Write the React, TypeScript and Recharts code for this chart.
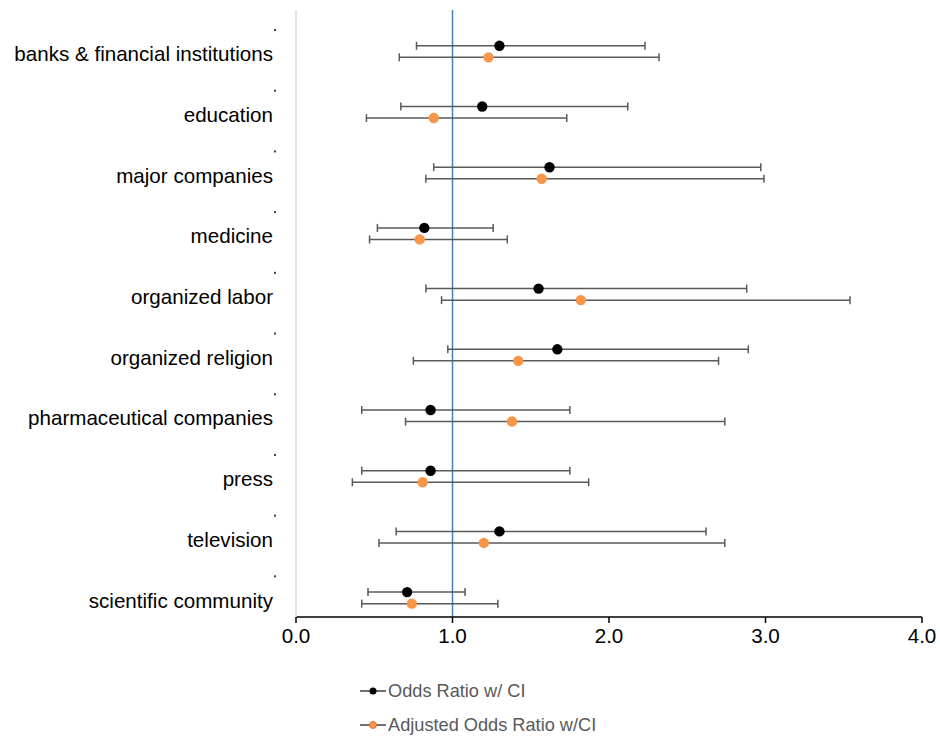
import React from 'react';
import { ScatterChart, Scatter, XAxis, YAxis, ErrorBar, ReferenceLine } from 'recharts';

const categories = [
  'banks & financial institutions',
  'education',
  'major companies',
  'medicine',
  'organized labor',
  'organized religion',
  'pharmaceutical companies',
  'press',
  'television',
  'scientific community',
];

// odds ratio with 95% CI
const oddsRatio = [1.30, 1.19, 1.62, 0.82, 1.55, 1.67, 0.86, 0.86, 1.30, 0.71];
const oddsLow = [0.77, 0.67, 0.88, 0.52, 0.83, 0.97, 0.42, 0.42, 0.64, 0.46];
const oddsHigh = [2.23, 2.12, 2.97, 1.26, 2.88, 2.89, 1.75, 1.75, 2.62, 1.08];

// adjusted odds ratio with 95% CI
const adjRatio = [1.23, 0.88, 1.57, 0.79, 1.82, 1.42, 1.38, 0.81, 1.20, 0.74];
const adjLow = [0.66, 0.45, 0.83, 0.47, 0.93, 0.75, 0.70, 0.36, 0.53, 0.42];
const adjHigh = [2.32, 1.73, 2.99, 1.35, 3.54, 2.70, 2.74, 1.87, 2.74, 1.29];

const xTicks = [0, 1, 2, 3, 4];
const seriesNames = ['Odds Ratio w/ CI', 'Adjusted Odds Ratio w/CI'];
const seriesColors = ['#000000', '#f79646'];

const FONT = '"Liberation Sans", Arial, sans-serif';

// row layout inside each category band
const OR_OFFSET = 0.59;
const ADJ_OFFSET = 0.78;
const LABEL_OFFSET = 0.725;
const DOT_OFFSET = 0.33;

const build = (vals: number[], lo: number[], hi: number[], off: number) =>
  vals.map((v, i) => ({ x: v, y: i + off, err: [v - lo[i], hi[i] - v] }));

const orData = build(oddsRatio, oddsLow, oddsHigh, OR_OFFSET);
const adjData = build(adjRatio, adjLow, adjHigh, ADJ_OFFSET);

const yTicks: number[] = [];
categories.forEach((_, i) => {
  yTicks.push(i + DOT_OFFSET);
  yTicks.push(i + LABEL_OFFSET);
});

const CatTick = (props: any) => {
  const { x, y, payload } = props;
  const v = payload.value;
  const idx = Math.floor(v);
  const frac = v - idx;
  if (Math.abs(frac - DOT_OFFSET) < 0.01) {
    return <rect x={x - 2} y={y - 1} width={2} height={2} fill="#404040" />;
  }
  return (
    <text x={x - 3} y={y} dy="0.35em" textAnchor="end" fontSize={20.6} fontFamily={FONT} fill="#000">
      {categories[idx]}
    </text>
  );
};

const dot = (color: string) => (props: any) => (
  <circle cx={props.cx} cy={props.cy} r={5.2} fill={color} />
);

const LegendBox = () => (
  <div style={{ position: 'absolute', left: 360, top: 674, fontFamily: FONT, fontSize: 18.2, color: '#595959' }}>
    {seriesNames.map((n, i) => (
      <div key={n} style={{ display: 'flex', alignItems: 'center', height: 34 }}>
        <svg width={28} height={12}>
          <line x1={0} y1={6} x2={26} y2={6} stroke="#404040" strokeWidth={1.5} />
          <circle cx={13} cy={6} r={3.5} fill={seriesColors[i]} stroke={i === 1 ? '#d9622b' : 'none'} strokeWidth={0.8} />
        </svg>
        <span>{n}</span>
      </div>
    ))}
  </div>
);

export default function App() {
  return (
    <div style={{ position: 'relative', width: 940, height: 738 }}>
      <style>{'body { margin: 0; }'}</style>
      <ScatterChart width={940} height={738} margin={{ top: 10, right: 18, left: 0, bottom: 81 }}>
        <XAxis
          type="number"
          dataKey="x"
          domain={[0, 4]}
          ticks={xTicks}
          tickFormatter={(v: number) => v.toFixed(1)}
          axisLine={{ stroke: '#000', strokeWidth: 1.5 }}
          tickLine={{ stroke: '#000', strokeWidth: 1.5 }}
          tickSize={6}
          tickMargin={5}
          height={40}
          tick={{ fontSize: 20.6, fontFamily: FONT, fill: '#000' }}
        />
        <YAxis
          type="number"
          dataKey="y"
          domain={[0, 10]}
          reversed
          ticks={yTicks}
          interval={0}
          width={296}
          tickLine={false}
          tickSize={0}
          tickMargin={20}
          axisLine={{ stroke: '#d9d9d9', strokeWidth: 1.5 }}
          tick={<CatTick />}
        />
        <ReferenceLine x={1} stroke="#4a7ebb" strokeWidth={1.5} />
        <Scatter name={seriesNames[0]} data={orData} shape={dot(seriesColors[0])} isAnimationActive={false}>
          <ErrorBar dataKey="err" direction="x" width={4} stroke="#595959" strokeWidth={1.5} />
        </Scatter>
        <Scatter name={seriesNames[1]} data={adjData} shape={dot(seriesColors[1])} isAnimationActive={false}>
          <ErrorBar dataKey="err" direction="x" width={4} stroke="#595959" strokeWidth={1.5} />
        </Scatter>
      </ScatterChart>
      <LegendBox />
    </div>
  );
}
